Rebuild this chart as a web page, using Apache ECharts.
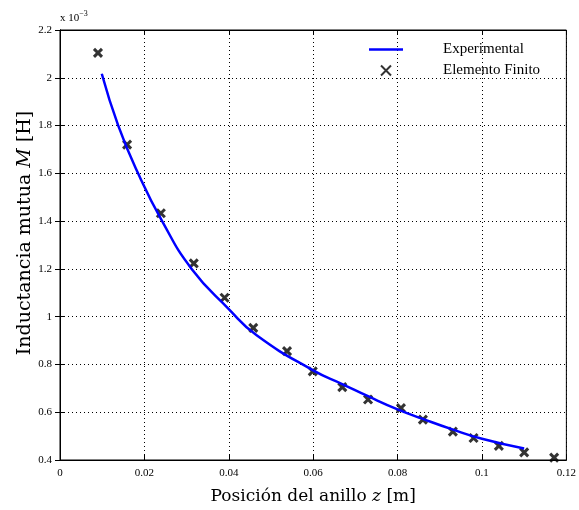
<!DOCTYPE html>
<html>
<head>
<meta charset="utf-8">
<script src="https://cdn.jsdelivr.net/npm/echarts@6/dist/echarts.min.js"></script>
<style>
  html, body { margin: 0; padding: 0; background: #fff; }
  #chart { width: 579px; height: 510px; }
</style>
</head>
<body>
<div id="chart"></div>
<script>
// datos (M en unidades de 1e-3 H)
var feX = [0.009, 0.0159, 0.0239, 0.0317, 0.039, 0.0458, 0.0538, 0.0599, 0.0669, 0.073, 0.0808, 0.086, 0.0931, 0.098, 0.104, 0.110, 0.1171];
var feY = [2.104, 1.72, 1.433, 1.223, 1.079, 0.953, 0.856, 0.771, 0.705, 0.653, 0.617, 0.569, 0.519, 0.492, 0.459, 0.432, 0.41];

var expX = [0.0099, 0.0138, 0.0185, 0.0242, 0.0312, 0.040, 0.0466, 0.060, 0.067, 0.073, 0.080, 0.086, 0.093, 0.100, 0.110];
var expY = [2.017, 1.80, 1.60, 1.40, 1.20, 1.032, 0.922, 0.775, 0.717, 0.667, 0.612, 0.572, 0.528, 0.489, 0.448];

var xTicks = { min: 0, max: 0.12, step: 0.02 };
var yTicks = { min: 0.4, max: 2.2, step: 0.2 };

var serif = "Liberation Serif";
var serifAncha = "DejaVu Serif";

function pares(xs, ys) {
  return xs.map(function (x, i) { return [x, ys[i]]; });
}

var myChart = echarts.init(document.getElementById("chart"));

var gridLine = { show: true, lineStyle: { color: "#000", width: 1, type: [1, 3] } };
var tick = { show: true, inside: true, length: 5, lineStyle: { color: "#000" } };

var option = {
  animation: false,
  backgroundColor: "#fff",
  grid: { left: 60, right: 7, top: 30, bottom: 43, show: true, borderColor: "#000", borderWidth: 1 },
  legend: {
    orient: "vertical",
    left: 364,
    top: 37,
    itemWidth: 34,
    itemHeight: 10,
    itemGap: 6,
    textStyle: { fontFamily: serif, fontSize: 15, color: "#000", padding: [0, 0, 0, 35] },
    data: [
      { name: "Experimental", icon: "path://M0,0L34,0L34,2.5L0,2.5Z" },
      { name: "Elemento Finito" }
    ]
  },
  xAxis: [
    {
      type: "value", min: xTicks.min, max: xTicks.max, interval: xTicks.step,
      axisLine: { show: true, lineStyle: { color: "#000" } },
      axisTick: tick,
      splitLine: gridLine,
      axisLabel: {
        fontFamily: serif, fontSize: 11, color: "#000", margin: 8,
        formatter: function (v) { return String(+v.toFixed(2)); }
      },
      name: "Posición del anillo {i|z} [m]",
      nameLocation: "middle",
      nameGap: 28,
      nameTextStyle: {
        fontFamily: serifAncha, fontSize: 17, color: "#000",
        rich: { i: { fontFamily: serifAncha, fontStyle: "italic", fontSize: 17 } }
      }
    },
    {
      type: "value", position: "top", min: xTicks.min, max: xTicks.max, interval: xTicks.step,
      axisLine: { show: true, lineStyle: { color: "#000" } },
      axisTick: tick, axisLabel: { show: false }, splitLine: { show: false }
    }
  ],
  yAxis: [
    {
      type: "value", min: yTicks.min, max: yTicks.max, interval: yTicks.step,
      axisLine: { show: true, lineStyle: { color: "#000" } },
      axisTick: tick,
      splitLine: gridLine,
      axisLabel: {
        fontFamily: serif, fontSize: 11, color: "#000", margin: 8,
        formatter: function (v) { return String(+v.toFixed(1)); }
      }
    },
    {
      type: "value", position: "right", min: yTicks.min, max: yTicks.max, interval: yTicks.step,
      axisLine: { show: true, lineStyle: { color: "#000" } },
      axisTick: tick, axisLabel: { show: false }, splitLine: { show: false }
    }
  ],
  graphic: [
    {
      type: "text", left: 60, top: 10,
      style: {
        text: "x 10{s|−3}",
        fontFamily: serif, fontSize: 11, fill: "#000",
        rich: { s: { fontFamily: serif, fontSize: 8, verticalAlign: "top", padding: [0, 0, 8, 0] } }
      }
    },
    {
      type: "text", x: 25, y: 233, rotation: Math.PI / 2,
      style: {
        text: "Inductancia mutua {i|M} [H]",
        fontFamily: serifAncha, fontSize: 19, fill: "#000",
        align: "center", verticalAlign: "middle",
        rich: { i: { fontFamily: serifAncha, fontStyle: "italic", fontSize: 19 } }
      }
    }
  ],
  series: [
    {
      name: "Experimental",
      type: "line",
      smooth: 0.5,
      symbol: "none",
      lineStyle: { color: "#0000ff", width: 2.5 },
      itemStyle: { color: "#0000ff" },
      data: pares(expX, expY)
    },
    {
      name: "Elemento Finito",
      type: "scatter",
      symbol: "path://M0,0L10,10M10,0L0,10",
      symbolSize: 8,
      itemStyle: { color: "rgba(0,0,0,0)", borderColor: "#000", borderWidth: 3 },
      data: pares(feX, feY)
    }
  ]
};

myChart.setOption(option);
</script>
</body>
</html>
